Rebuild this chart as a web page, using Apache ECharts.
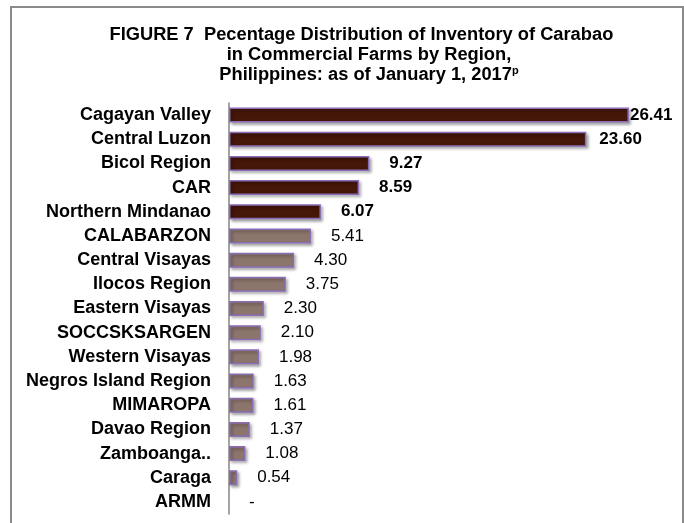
<!DOCTYPE html>
<html lang="en">
<head>
    <meta charset="UTF-8">
    <title>Carabao inventory by region</title>
    <script src="https://cdn.jsdelivr.net/npm/echarts@6/dist/echarts.min.js"></script>
    <style>
        * { margin: 0; padding: 0; }
        html, body { width: 100%; height: 100%; background: #fff; }
    </style>
</head>
<body>
    <div id="main" style="width: 684px;height:523px;"></div>
</body>
<script>
    // regions, top to bottom as in the figure
    var regions = ['Cagayan Valley', 'Central Luzon', 'Bicol Region', 'CAR', 'Northern Mindanao',
        'CALABARZON', 'Central Visayas', 'Ilocos Region', 'Eastern Visayas', 'SOCCSKSARGEN',
        'Western Visayas', 'Negros Island Region', 'MIMAROPA', 'Davao Region', 'Zamboanga..',
        'Caraga', 'ARMM'];
    // percent share, null = no data ("-")
    var shares = [26.41, 23.60, 9.27, 8.59, 6.07, 5.41, 4.30, 3.75, 2.30, 2.10,
        1.98, 1.63, 1.61, 1.37, 1.08, 0.54, null];
    var topCount = 5; // first five are highlighted in dark brown

    var myChart = echarts.init(document.getElementById('main'));
    var font = 'Liberation Sans, Arial, sans-serif';

    var barData = shares.map(function (v, i) {
        var top = i < topCount;
        var item = {
            value: v === null ? 0 : v,
            itemStyle: {
                color: top ? '#441708' : '#8c766c'
            },
            label: {
                fontWeight: top ? 'bold' : 'normal',
                distance: 20
            }
        };
        if (i === 0) item.label.distance = 1;
        if (i === 1) item.label.distance = 13;
        if (v === null) {
            item.label.formatter = '-';
            item.itemStyle.borderWidth = 0;
        }
        return item;
    });

    myChart.setOption({
        animation: false,
        title: {
            // trailing spaces on line 1 nudge it a bit left, like the original
            text: 'FIGURE 7  Pecentage Distribution of Inventory of Carabao   \nin Commercial Farms by Region,\nPhilippines: as of January 1, 2017{sup|p}',
            left: 364,
            top: 20,
            textAlign: 'center',
            textStyle: {
                fontFamily: font,
                fontSize: 18.3,
                fontWeight: 'bold',
                color: '#000',
                lineHeight: 20,
                rich: {
                    sup: { fontSize: 11, fontWeight: 'bold', verticalAlign: 'top', padding: [0, 0, 7, 0] }
                }
            }
        },
        grid: {
            left: 229,
            right: 31,
            top: 103,
            bottom: 9
        },
        xAxis: {
            type: 'value',
            min: 0,
            max: 28,
            show: false
        },
        yAxis: {
            type: 'category',
            inverse: true,
            data: regions,
            axisLine: { lineStyle: { color: '#868686', width: 1.5 } },
            axisTick: { length: 5, inside: false, lineStyle: { color: '#868686', width: 1.5 } },
            axisLabel: {
                fontFamily: font,
                fontSize: 18,
                fontWeight: 'bold',
                color: '#000',
                margin: 18
            }
        },
        series: [{
            type: 'bar',
            data: barData,
            barCategoryGap: '38%',
            itemStyle: {
                borderColor: '#8a6cb8',
                borderWidth: 1.5,
                shadowColor: 'rgba(0,0,0,0.35)',
                shadowBlur: 3,
                shadowOffsetX: 2,
                shadowOffsetY: 2
            },
            label: {
                show: true,
                position: 'right',
                fontFamily: font,
                fontSize: 17,
                color: '#000',
                formatter: function (p) { return p.value.toFixed(2); }
            }
        }],
        graphic: [{
            type: 'rect',
            shape: { x: 11, y: 7, width: 672, height: 530 },
            style: { fill: 'none', stroke: '#8a8a8a', lineWidth: 2 },
            silent: true
        }]
    });
</script>
</html>
